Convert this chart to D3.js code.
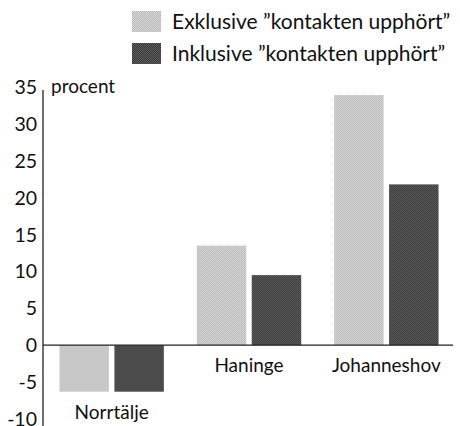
<!DOCTYPE html>
<html>
<head>
<meta charset="utf-8">
<script src="https://cdn.jsdelivr.net/npm/d3@7"></script>
<style>
  body { margin: 0; background: #fff; }
  text { font-family: Lato, "Open Sans", sans-serif; fill: #111; }
</style>
</head>
<body>
<div id="chart"></div>
<script>
// data
var categories = ["Norrtälje", "Haninge", "Johanneshov"];
var seriesNames = ["Exklusive ”kontakten upphört”", "Inklusive ”kontakten upphört”"];
var exklusive = [-6.3, 13.5, 33.9];
var inklusive = [-6.3, 9.5, 21.8];
var yTicks = [35, 30, 25, 20, 15, 10, 5, 0, -5, -10];

var width = 460, height = 426;

var svg = d3.select("#chart")
    .append("svg")
    .attr("width", width)
    .attr("height", height);

// dithered fills, like the printed screen
var defs = svg.append("defs");
function dither(id, a, b) {
    var p = defs.append("pattern")
        .attr("id", id)
        .attr("width", 2).attr("height", 2)
        .attr("patternUnits", "userSpaceOnUse");
    p.append("rect").attr("width", 2).attr("height", 2).attr("fill", a);
    p.append("rect").attr("width", 1).attr("height", 1).attr("fill", b);
    p.append("rect").attr("x", 1).attr("y", 1).attr("width", 1).attr("height", 1).attr("fill", b);
}
dither("light", "#d8d8d8", "#b8b8b8");
dither("dark", "#5e5e5e", "#383838");
var fills = ["url(#light)", "url(#dark)"];

var y = d3.scaleLinear().domain([-10, 35]).range([419, 87]);

var x0 = d3.scaleBand()
    .domain(categories)
    .range([43, 455])
    .paddingInner(0.24)
    .paddingOuter(0.12);

var x1 = d3.scaleBand()
    .domain([0, 1])
    .range([0, x0.bandwidth()])
    .paddingInner(0.1);

var rows = categories.map(function(c, i) {
    return { cat: c, values: [exklusive[i], inklusive[i]] };
});

// bars
var groups = svg.selectAll(".grp")
    .data(rows)
    .enter()
    .append("g")
    .attr("transform", function(d) { return "translate(" + x0(d.cat) + ",0)"; });

groups.selectAll("rect")
    .data(function(d) { return d.values.map(function(v, j) { return { s: j, v: v }; }); })
    .enter()
    .append("rect")
    .attr("x", function(d) { return x1(d.s); })
    .attr("width", x1.bandwidth())
    .attr("y", function(d) { return y(Math.max(0, d.v)); })
    .attr("height", function(d) { return Math.abs(y(d.v) - y(0)); })
    .attr("fill", function(d) { return fills[d.s]; });

// zero line and y axis
svg.append("line")
    .attr("x1", 43).attr("x2", 453)
    .attr("y1", y(0)).attr("y2", y(0))
    .attr("stroke", "#222").attr("stroke-width", 1.3);

svg.append("line")
    .attr("x1", 43).attr("x2", 43)
    .attr("y1", 90).attr("y2", 426)
    .attr("stroke", "#222").attr("stroke-width", 1.3);

svg.selectAll(".ytick")
    .data(yTicks)
    .enter()
    .append("text")
    .attr("x", 37)
    .attr("y", function(d) { return y(d); })
    .attr("dy", "0.36em")
    .attr("text-anchor", "end")
    .style("font-size", "19.5px")
    .text(function(d) { return d; });

svg.append("text")
    .attr("x", 51).attr("y", 93)
    .style("font-size", "19px")
    .text("procent");

// category labels, below the bars
svg.selectAll(".cat")
    .data(rows)
    .enter()
    .append("text")
    .attr("x", function(d) { return x0(d.cat) + x0.bandwidth() / 2; })
    .attr("y", function(d) { return d3.min(d.values) < 0 ? y(d3.min(d.values)) + 27 : y(0) + 27; })
    .attr("text-anchor", "middle")
    .style("font-size", "19px")
    .text(function(d) { return d.cat; });

// legend
var legend = svg.selectAll(".leg")
    .data(seriesNames)
    .enter()
    .append("g")
    .attr("transform", function(d, i) { return "translate(132," + (11 + i * 32) + ")"; });

legend.append("rect")
    .attr("width", 29).attr("height", 21)
    .attr("fill", function(d, i) { return fills[i]; });

legend.append("text")
    .attr("x", 40).attr("y", 18)
    .style("font-size", "21px")
    .text(function(d) { return d; });
</script>
</body>
</html>
